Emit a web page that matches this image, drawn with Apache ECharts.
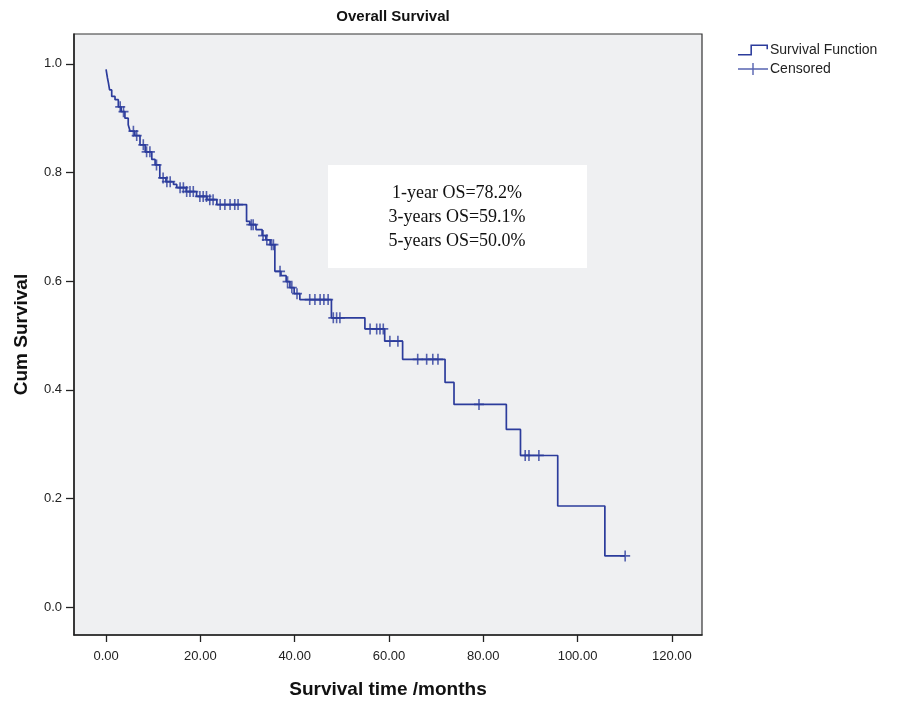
<!DOCTYPE html>
<html>
<head>
<meta charset="utf-8">
<script src="https://cdn.jsdelivr.net/npm/echarts@6/dist/echarts.min.js"></script>
<style>
  html, body { margin: 0; padding: 0; background: #fff; }
  #main { width: 900px; height: 704px; }
</style>
</head>
<body>
<div id="main"></div>
<script>
  // Kaplan-Meier curve: event times (months) and survival after each drop
  var eventTimes = [0, 0.3, 0.5, 0.75, 1.2, 1.9, 2.6, 3.2, 4.0, 4.7, 5.1, 6.1, 7.2, 8.3, 9.7,
    10.4, 11.4, 12.7, 14.3, 15.0, 17.0, 19.2, 21.4, 23.5, 29.8, 30.5, 31.8, 33.1, 33.9, 34.8,
    35.8, 37.1, 38.2, 39.0, 39.9, 41.1, 47.8, 54.9, 59.1, 62.9, 71.9, 73.8, 84.9, 87.9, 95.8, 105.8];
  var survival = [0.99, 0.974, 0.965, 0.952, 0.94, 0.934, 0.921, 0.912, 0.90, 0.888, 0.876, 0.868, 0.851, 0.838, 0.824,
    0.814, 0.79, 0.783, 0.778, 0.772, 0.765, 0.756, 0.75, 0.741, 0.710, 0.704, 0.695, 0.684, 0.676, 0.667,
    0.618, 0.610, 0.599, 0.588, 0.577, 0.566, 0.5325, 0.512, 0.4895, 0.456, 0.4136, 0.373, 0.327, 0.279, 0.186, 0.094];
  // censored observations (months)
  var censorTimes = [3.0, 3.7, 5.8, 6.5, 7.9, 8.6, 9.3, 10.7, 12.1, 12.9, 13.6, 15.7, 16.4, 17.1, 17.8, 18.5,
    19.9, 20.6, 21.3, 22.0, 22.7, 24.2, 25.2, 26.3, 27.3, 28.0, 30.8, 31.2, 33.3, 34.1, 35.1, 35.5,
    36.9, 38.5, 39.4, 40.5, 43.2, 44.3, 45.4, 46.2, 47.1, 48.2, 48.9, 49.6, 56.0, 57.4, 58.1, 58.8,
    60.2, 61.9, 66.1, 68.0, 69.3, 70.4, 79.1, 88.9, 89.7, 91.8, 110.1];
  var xTicks = [0, 20, 40, 60, 80, 100, 120];
  var yTicks = [0, 0.2, 0.4, 0.6, 0.8, 1.0];
  var noteLines = ['1-year OS=78.2%', '3-years OS=59.1%', '5-years OS=50.0%'];

  var blue = '#2c3c9c';
  var plusPath = 'path://M0,4.2H10V5.8H0Z M4.2,0H5.8V10H4.2Z';

  // survival value in force at time t
  function survAt(t) {
    var s = 1;
    for (var i = 0; i < eventTimes.length; i++) {
      if (eventTimes[i] <= t) s = survival[i];
    }
    return s;
  }

  var curve = eventTimes.map(function (t, i) { return [t, survival[i]]; });
  var lastCensor = censorTimes[censorTimes.length - 1];
  curve.push([lastCensor, survAt(lastCensor)]);
  var censored = censorTimes.map(function (t) { return [t, survAt(t)]; });

  var myChart = echarts.init(document.getElementById('main'));

  var option = {
    animation: false,
    textStyle: { fontFamily: 'Liberation Sans, Arial, sans-serif' },
    title: {
      text: 'Overall Survival',
      left: 388,
      textAlign: 'center',
      top: 4,
      textStyle: { fontSize: 15, fontWeight: 'bold', color: '#111' }
    },
    legend: {
      orient: 'vertical',
      left: 733,
      top: 38,
      itemGap: 5,
      itemWidth: 30,
      itemHeight: 12,
      textStyle: { fontSize: 14, color: '#222', padding: [0, 0, 0, -3] },
      data: [
        { name: 'Survival Function', icon: 'path://M0,9.5H12V0.5H29V5H27.5V2H13.5V11H0Z' },
        { name: 'Censored', icon: 'path://M0,5.3H30V6.7H0Z M14.3,0H15.7V12H14.3Z' }
      ]
    },
    grid: {
      left: 74, right: 198, top: 34, bottom: 68,
      show: true,
      backgroundColor: '#eff0f2',
      borderColor: '#333',
      borderWidth: 1.2
    },
    xAxis: {
      type: 'value',
      min: -6.8,
      max: 126.4,
      name: 'Survival time /months',
      nameLocation: 'middle',
      nameGap: 45,
      nameTextStyle: { fontSize: 19, fontWeight: 'bold', color: '#111' },
      axisLine: { show: true, onZero: false, lineStyle: { color: '#222', width: 1.5 } },
      axisTick: { show: true, inside: false, length: 7, customValues: xTicks, lineStyle: { color: '#222', width: 1.3 } },
      axisLabel: {
        customValues: xTicks, margin: 15, fontSize: 13, color: '#222',
        formatter: function (v) { return v.toFixed(2); }
      },
      splitLine: { show: false }
    },
    yAxis: {
      type: 'value',
      min: -0.0515,
      max: 1.055,
      name: 'Cum Survival',
      nameLocation: 'middle',
      nameRotate: 90,
      nameGap: 43,
      nameTextStyle: { fontSize: 19, fontWeight: 'bold', color: '#111' },
      axisLine: { show: true, onZero: false, lineStyle: { color: '#222', width: 1.5 } },
      axisTick: { show: true, inside: false, length: 8, customValues: yTicks, lineStyle: { color: '#222', width: 1.3 } },
      axisLabel: {
        customValues: yTicks, margin: 12, fontSize: 13, color: '#222',
        formatter: function (v) { return v.toFixed(1); }
      },
      splitLine: { show: false }
    },
    graphic: [{
      type: 'group',
      left: 328,
      top: 165,
      children: [
        { type: 'rect', shape: { x: 0, y: 0, width: 259, height: 103 }, style: { fill: '#fff' } },
        {
          type: 'text', x: 129, y: 16,
          style: {
            text: noteLines.join('\n'),
            font: '18px "Liberation Serif", "Times New Roman", serif',
            lineHeight: 24,
            fill: '#111',
            align: 'center',
            verticalAlign: 'top'
          }
        }
      ]
    }],
    series: [
      {
        name: 'Survival Function',
        type: 'line',
        step: 'end',
        showSymbol: false,
        data: curve,
        itemStyle: { color: blue },
        lineStyle: { color: blue, width: 1.7 }
      },
      {
        name: 'Censored',
        type: 'scatter',
        symbol: plusPath,
        symbolSize: [10, 11],
        data: censored,
        itemStyle: { color: blue }
      }
    ]
  };

  myChart.setOption(option);
</script>
</body>
</html>
